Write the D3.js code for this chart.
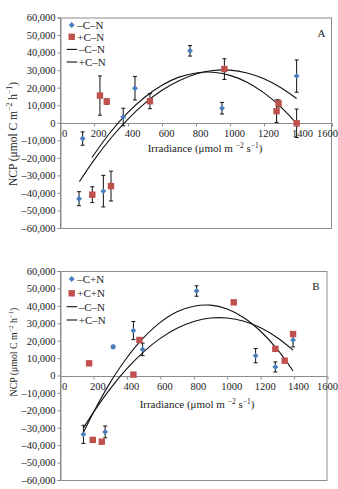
<!DOCTYPE html>
<html><head><meta charset="utf-8">
<script src="https://cdn.jsdelivr.net/npm/d3@7"></script>
<style>
html,body{margin:0;padding:0;background:#fff;}
svg{display:block;font-family:"Liberation Serif","Times New Roman",serif;}
</style></head>
<body>
<svg id="c" width="338" height="489"></svg>
<script>
// ---------- data ----------
const xTicks = [0,200,400,600,800,1000,1200,1400,1600];
const yTicks = [60000,50000,40000,30000,20000,10000,0,-10000,-20000,-30000,-40000,-50000,-60000];

// Panel A
const aBlueX   = [112, 133, 255, 372, 441, 765, 953, 1392];
const aBlueY   = [-43300, -9000, -39000, 3300, 19700, 41000, 8300, 26600];
const aBlueErr = [4000, 3800, 9000, 5000, 6700, 3000, 3300, 9200];
const aRedX    = [190, 235, 275, 300, 529, 967, 1274, 1286, 1392];
const aRedY    = [-41000, 15500, 12100, -36100, 12300, 30600, 6600, 11000, -300];
const aRedErr  = [4500, 11200, 1500, 8500, 4300, 5900, 6400, 2000, 8100];
// trend lines, points
const aTrend1X = [114, 200, 300, 400, 500, 600, 700, 800, 900, 1000, 1100, 1200, 1300, 1392];
const aTrend1Y = [-33600, -21300, -8700, 2100, 11200, 18500, 24000, 27800, 29800, 30000, 28400, 25100, 20000, 13800];
const aTrend2X = [188, 300, 400, 500, 600, 700, 800, 900, 1000, 1100, 1200, 1300, 1392];
const aTrend2Y = [-19800, -5000, 5900, 14700, 21400, 26000, 28400, 28800, 27000, 23100, 17000, 8900, -500];
const aLegend  = ["\u2013C\u2013N", "+C\u2013N", "\u2013C\u2013N", "+C\u2013N"];

// Panel B
const bBlueX   = [140, 270, 318, 439, 494, 817, 1170, 1288, 1394];
const bBlueY   = [-33800, -32400, 16500, 25800, 15000, 48500, 11400, 4900, 20400];
const bBlueErr = [5200, 3400, 800, 5200, 3600, 3000, 4100, 2900, 4000];
const bRedX    = [174, 196, 250, 439, 475, 1039, 1288, 1344, 1394];
const bRedY    = [7000, -37000, -38000, 500, 20400, 42000, 15300, 8500, 23800];
const bTrend1X = [140, 200, 300, 400, 500, 600, 700, 800, 900, 1000, 1100, 1200, 1300, 1394];
const bTrend1Y = [-32800, -21200, -4100, 10200, 21700, 30500, 36600, 39800, 40400, 38200, 33200, 25400, 15000, 2600];
const bTrend2X = [140, 200, 300, 400, 500, 600, 700, 800, 900, 1000, 1100, 1200, 1300, 1394];
const bTrend2Y = [-30200, -21200, -7700, 3900, 13600, 21300, 27100, 31000, 33000, 33000, 31200, 27400, 21700, 14600];
const bLegend  = ["\u2013C+N", "+C+N", "\u2013C\u2013N", "+C\u2013N"];

const BLUE = "#4a7ebb", RED = "#c0504d", AXIS = "#8c8c8c";

const svg = d3.select("#c");

function fmt(v){
  const s = d3.format(",")(Math.abs(v));
  return v < 0 ? "\u2013" + s : s;
}

function panel(o){
  const g = svg.append("g");
  const x = d3.scaleLinear().domain([0,1600]).range([o.left, o.right]);
  const y = d3.scaleLinear().domain([-60000,60000]).range([o.bottom, o.top]);

  // frame
  g.append("rect").attr("x", o.left+0.5).attr("y", o.top+0.5)
    .attr("width", o.right-o.left-1).attr("height", o.bottom-o.top)
    .attr("fill","none").attr("stroke",AXIS).attr("stroke-width",1);

  // y axis
  const ya = g.append("g").attr("transform",`translate(${o.left+0.5},0)`)
    .call(d3.axisLeft(y).tickValues(yTicks).tickSize(3).tickPadding(2).tickFormat(fmt));
  ya.select(".domain").attr("stroke",AXIS);
  ya.selectAll(".tick line").attr("stroke",AXIS);
  ya.selectAll(".tick text").attr("font-family","Liberation Serif").attr("font-size",10.5).attr("fill","#222");

  // x axis on zero line
  const xa = g.append("g").attr("transform",`translate(0,${Math.round(y(0))+0.5})`)
    .call(d3.axisBottom(x).tickValues(xTicks).tickSize(3).tickPadding(3).tickFormat(d3.format("d")));
  xa.select(".domain").attr("stroke",AXIS).attr("d",`M${o.left},0H${o.right}`);
  xa.selectAll(".tick line").attr("stroke",AXIS);
  xa.selectAll(".tick text").attr("font-family","Liberation Serif").attr("font-size",10.5)
    .attr("fill","#222").attr("dx",4);
  // keep the last label inside the picture
  xa.selectAll(".tick text").filter(d=>d===1600)
    .attr("text-anchor","end").attr("dx",0).attr("x", 337.5 - x(1600));

  // trend lines
  const line = d3.line().x(d=>x(d[0])).y(d=>y(d[1])).curve(d3.curveCatmullRom);
  [o.t1, o.t2].forEach(t=>{
    g.append("path").attr("d", line(d3.zip(t[0], t[1])))
      .attr("fill","none").attr("stroke","#111").attr("stroke-width",1.1);
  });

  // error bars
  function errs(X,Y,E){
    if(!E) return;
    const data = d3.zip(X,Y,E).filter(d=>d[2]>0);
    const eg = g.append("g").attr("stroke","#111").attr("stroke-width",1);
    eg.selectAll(".v").data(data).join("line")
      .attr("x1",d=>x(d[0])).attr("x2",d=>x(d[0]))
      .attr("y1",d=>y(d[1]-d[2])).attr("y2",d=>y(d[1]+d[2]));
    eg.selectAll(".t").data(data).join("line")
      .attr("x1",d=>x(d[0])-2).attr("x2",d=>x(d[0])+2)
      .attr("y1",d=>y(d[1]+d[2])).attr("y2",d=>y(d[1]+d[2]));
    eg.selectAll(".b").data(data).join("line")
      .attr("x1",d=>x(d[0])-2).attr("x2",d=>x(d[0])+2)
      .attr("y1",d=>y(d[1]-d[2])).attr("y2",d=>y(d[1]-d[2]));
  }
  errs(o.bx,o.by,o.be);
  errs(o.rx,o.ry,o.re);

  // markers
  const diamond = d3.symbol().type(d3.symbolDiamond2).size(22);
  g.selectAll(".bd").data(d3.zip(o.bx,o.by)).join("path")
    .attr("d",diamond).attr("transform",d=>`translate(${x(d[0])},${y(d[1])})`).attr("fill",BLUE);
  g.selectAll(".rs").data(d3.zip(o.rx,o.ry)).join("rect")
    .attr("x",d=>x(d[0])-3.2).attr("y",d=>y(d[1])-3.2).attr("width",6.4).attr("height",6.4).attr("fill",RED);

  // legend
  const L = o.leg;
  g.append("path").attr("d",diamond).attr("transform",`translate(${L.mx},${L.rows[0]})`).attr("fill",BLUE);
  g.append("rect").attr("x",L.mx-3.2).attr("y",L.rows[1]-3.2).attr("width",6.4).attr("height",6.4).attr("fill",RED);
  [2,3].forEach(i=>g.append("line").attr("x1",L.mx-5).attr("x2",L.mx+5.5)
      .attr("y1",L.rows[i]).attr("y2",L.rows[i]).attr("stroke","#111").attr("stroke-width",1.1));
  o.legText.forEach((t,i)=>{
    g.append("text").attr("x", i<2 ? L.mx+5.5 : L.mx+7).attr("y",L.rows[i]+3.8)
      .attr("font-size",11).attr("fill","#222").text(t);
  });

  // panel letter
  g.append("text").attr("x",o.letter[0]).attr("y",o.letter[1]).attr("text-anchor","middle")
    .attr("font-size",11).attr("fill","#222").text(o.name);

  // x title
  const xt = g.append("text").attr("x",o.xt[0]).attr("y",o.xt[1]).attr("text-anchor","middle")
    .attr("font-size",11).attr("fill","#222");
  xt.append("tspan").text("Irradiance (\u03bcmol m ");
  xt.append("tspan").attr("dy",-4).attr("font-size",7.5).text("\u22122");
  xt.append("tspan").attr("dy",4).text(" s");
  xt.append("tspan").attr("dy",-4).attr("font-size",7.5).text("\u22121");
  xt.append("tspan").attr("dy",4).text(")");

  // y title
  const fs = o.ytFs, sup = fs*0.68, up = fs*0.38;
  const yt = g.append("text").attr("transform",`translate(${o.yt[0]},${o.yt[1]}) rotate(-90)`)
    .attr("text-anchor","middle").attr("font-size",fs).attr("fill","#222");
  yt.append("tspan").text("NCP (\u03bcmol C m");
  yt.append("tspan").attr("dy",-up).attr("font-size",sup).text("\u22122");
  yt.append("tspan").attr("dy",up).text(" h");
  yt.append("tspan").attr("dy",-up).attr("font-size",sup).text("\u22121");
  yt.append("tspan").attr("dy",up).text(")");
}

panel({name:"A", left:60, right:332, top:17.5, bottom:228,
  bx:aBlueX, by:aBlueY, be:aBlueErr, rx:aRedX, ry:aRedY, re:aRedErr,
  t1:[aTrend1X,aTrend1Y], t2:[aTrend2X,aTrend2Y],
  leg:{mx:71.7, rows:[25,36.8,49.4,62]}, legText:aLegend,
  letter:[321.5,37], xt:[205,152], yt:[16.5,134], ytFs:11.5});

panel({name:"B", left:60, right:327.5, top:271, bottom:480,
  bx:bBlueX, by:bBlueY, be:bBlueErr, rx:bRedX, ry:bRedY, re:null,
  t1:[bTrend1X,bTrend1Y], t2:[bTrend2X,bTrend2Y],
  leg:{mx:71.7, rows:[279,293.3,306.7,320]}, legText:bLegend,
  letter:[316,289.5], xt:[197,408], yt:[16.5,352], ytFs:9.8});
</script>
</body></html>
